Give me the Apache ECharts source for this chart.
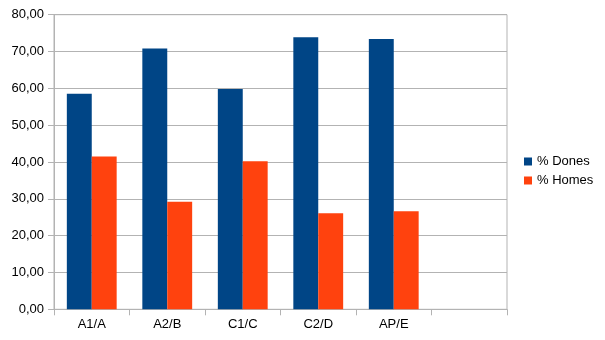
<!DOCTYPE html>
<html>
<head>
<meta charset="utf-8">
<script src="https://cdn.jsdelivr.net/npm/echarts@6/dist/echarts.min.js"></script>
<style>html,body{margin:0;padding:0;background:#fff;}#c{width:605px;height:340px;}</style>
</head>
<body>
<div id="c"></div>
<script>
const categories = ['A1/A', 'A2/B', 'C1/C', 'C2/D', 'AP/E', ''];
const seriesNames = ['% Dones', '% Homes'];
const dones = [58.5, 70.8, 59.8, 73.9, 73.4];
const homes = [41.5, 29.2, 40.2, 26.1, 26.6];
const yMin = 0, yMax = 80, yStep = 10;

const chart = echarts.init(document.getElementById('c'), null, {renderer: 'canvas'});
const font = 'Liberation Sans, Arial, sans-serif';
chart.setOption({
  animation: false,
  textStyle: {fontFamily: font},
  grid: {left: 54, right: 98, top: 14.7, bottom: 30.7, show: true, borderColor: '#b3b3b3', borderWidth: 1, containLabel: false},
  legend: {
    orient: 'vertical', left: 524, top: 155, padding: 0,
    itemWidth: 8, itemHeight: 8, itemGap: 6,
    icon: 'rect',
    textStyle: {fontSize: 13, color: '#000', fontFamily: font},
    data: seriesNames
  },
  xAxis: {
    type: 'category', data: categories,
    axisLine: {lineStyle: {color: '#b3b3b3'}},
    axisTick: {show: true, length: 6, lineStyle: {color: '#b3b3b3'}, alignWithLabel: false, interval: 0},
    axisLabel: {fontSize: 13, color: '#000', margin: 9, interval: 0, fontFamily: font},
    splitLine: {show: false}
  },
  yAxis: {
    type: 'value', min: yMin, max: yMax, interval: yStep,
    axisLine: {show: true, lineStyle: {color: '#b3b3b3'}},
    axisTick: {show: true, length: 6, lineStyle: {color: '#b3b3b3'}},
    axisLabel: {fontSize: 13, color: '#000', margin: 10, fontFamily: font,
      formatter: v => v.toFixed(2).replace('.', ',')},
    splitLine: {lineStyle: {color: '#b3b3b3'}}
  },
  series: [
    {name: seriesNames[0], type: 'bar', data: dones, itemStyle: {color: '#004586'}, barGap: '0%', barCategoryGap: '34%'},
    {name: seriesNames[1], type: 'bar', data: homes, itemStyle: {color: '#ff420e'}, barGap: '0%', barCategoryGap: '34%'}
  ]
});
</script>
</body>
</html>
